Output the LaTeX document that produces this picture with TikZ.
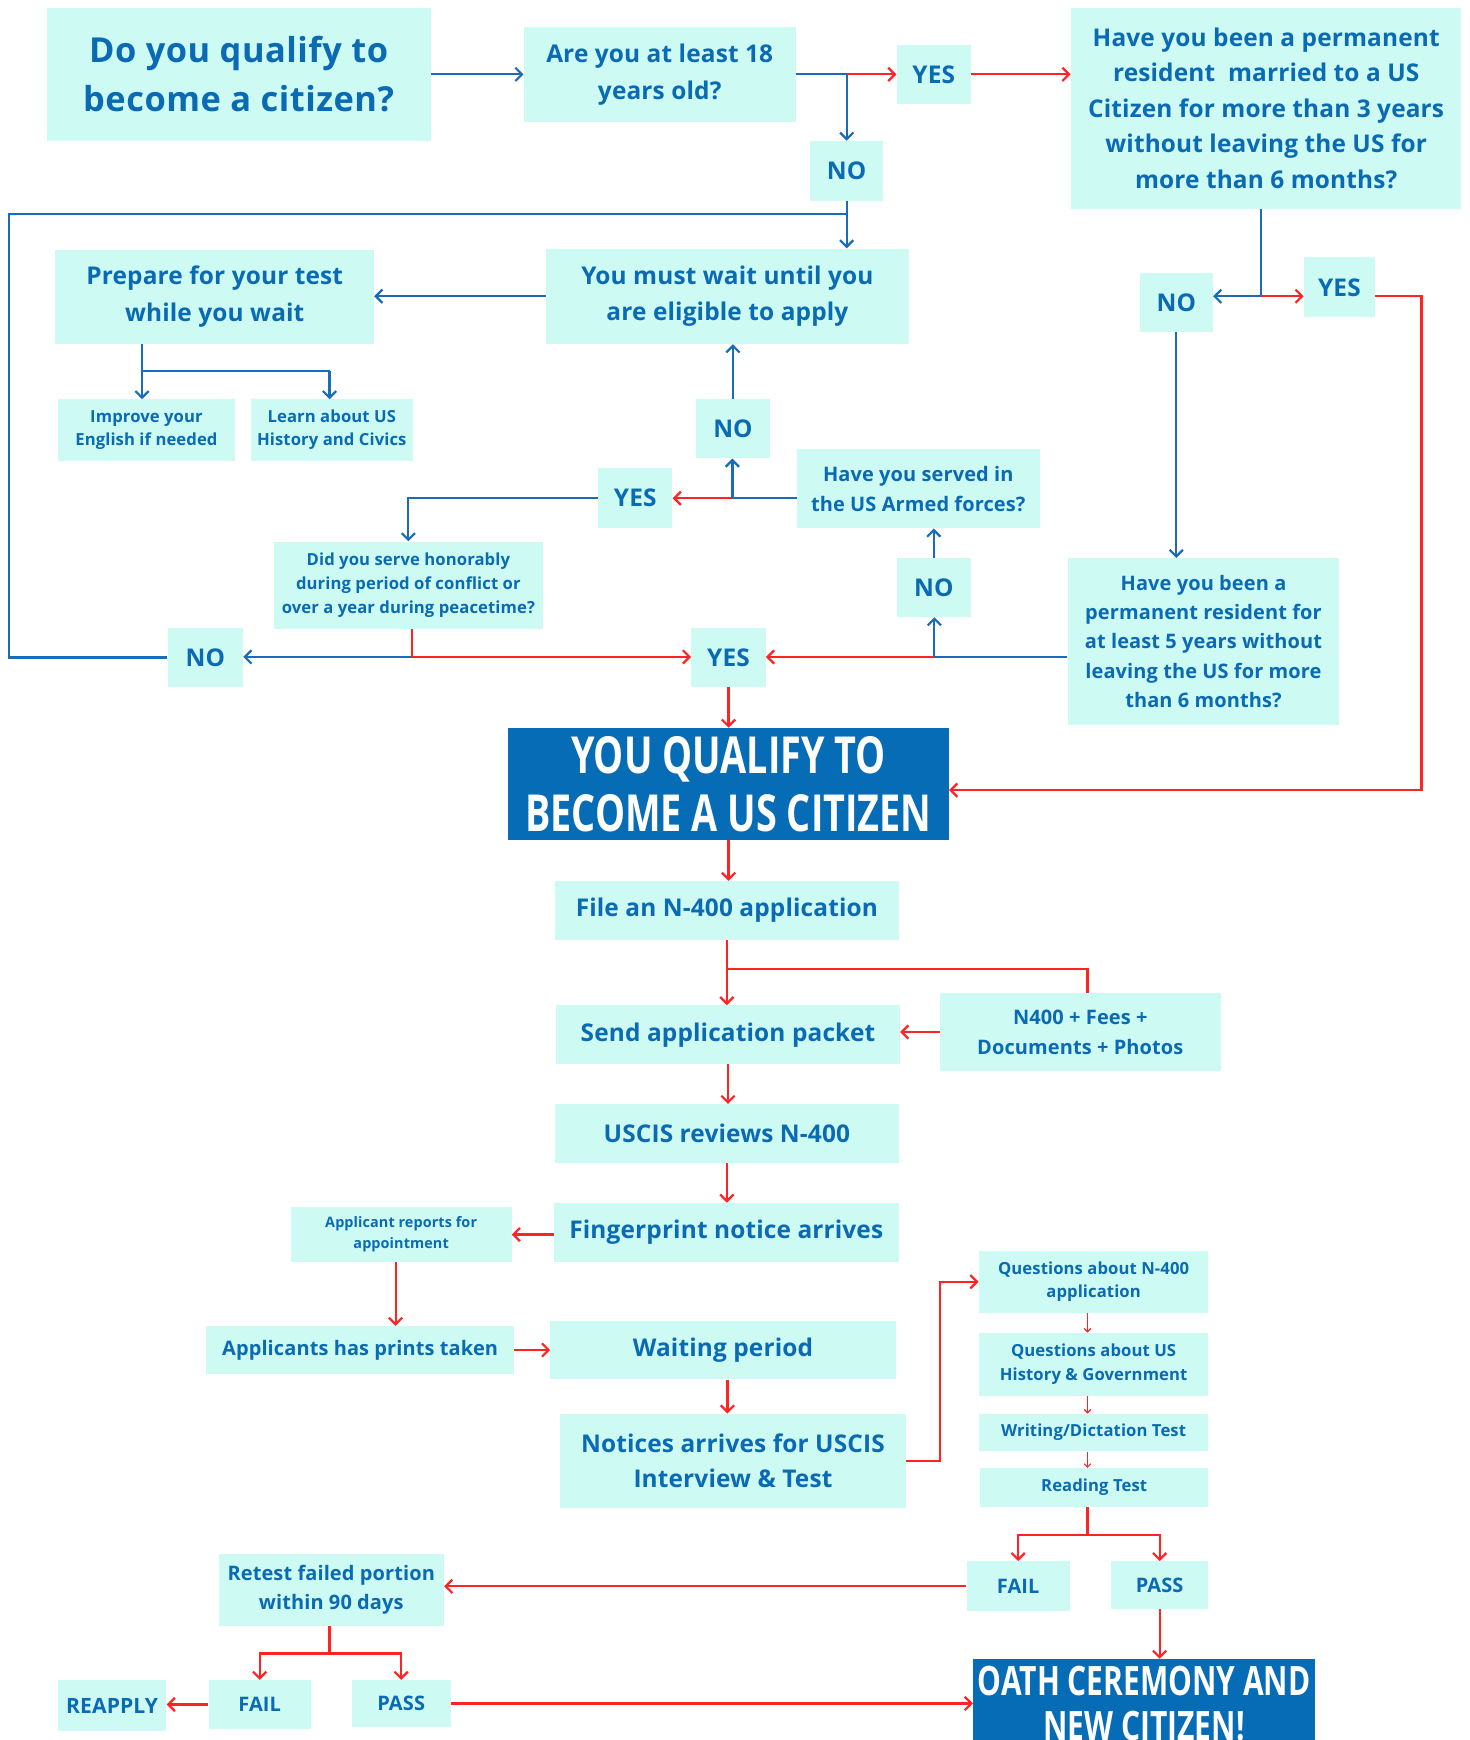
\documentclass[tikz,border=0pt]{standalone}
\usepackage{fontspec}
\setmainfont{Open Sans}
\newfontfamily\narrowfont{Open Sans}[LetterSpace=0.6]
\newfontfamily\titlefont{Open Sans}[LetterSpace=1.5]
\newfontfamily\condfont{Open Sans}[FakeStretch=0.74]
\usepackage{xcolor}
\usetikzlibrary{arrows.meta}
\definecolor{boxcyan}{RGB}{205,250,243}
\definecolor{txtblue}{RGB}{10,106,179}
\definecolor{lineblue}{RGB}{24,108,186}
\definecolor{linered}{RGB}{255,36,36}
\definecolor{darkblue}{RGB}{6,108,182}
\tikzset{
  flow box/.style={fill=boxcyan, text=txtblue, align=center, inner sep=0pt},
  dark box/.style={fill=darkblue, text=white, align=center, inner sep=0pt},
  box size/.style 2 args={minimum width=#1pt, minimum height=#2pt},
  txt/.style 2 args={font=\narrowfont\bfseries\fontsize{#1}{#2}\selectfont},
  bigtxt/.style 2 args={font=\condfont\bfseries\fontsize{#1}{#2}\selectfont},
  blue line/.style={draw=lineblue, line width=2pt},
  red line/.style={draw=linered, line width=2pt},
  thin red/.style={draw=linered, line width=1pt, >={Straight Barb[length=3pt,width=6pt]}},
}
\begin{document}
\begin{tikzpicture}[x=1pt, y=-1pt, >={Straight Barb[length=6pt,width=12pt]}]
\useasboundingbox (0,0) rectangle (1324,1568);

\node[flow box, box size={346}{120}, font=\titlefont\bfseries\fontsize{31}{44}\selectfont] (qualify) at (215,67) {Do you qualify to\\become a citizen?};
\node[flow box, box size={245}{85}, txt={22}{33}] (age) at (594.5,67) {Are you at least 18\\years old?};
\node[flow box, box size={67}{53}, txt={22}{33}] (yesA) at (841.5,67) {YES};
\node[flow box, box size={352}{181}, txt={22}{32}] (married) at (1141,97.5) {Have you been a permanent\\resident\ \ married to a US\\Citizen for more than 3 years\\without leaving the US for\\more than 6 months?};
\node[flow box, box size={66}{54}, txt={22}{33}] (noA) at (763,154) {NO};
\node[flow box, box size={327}{86}, txt={22}{33}] (wait) at (655.5,267) {You must wait until you\\are eligible to apply};
\node[flow box, box size={287}{85}, txt={22}{33}] (prepare) at (193.5,267.5) {Prepare for your test\\while you wait};
\node[flow box, box size={160}{55}, txt={15}{21}] (english) at (132,387.5) {Improve your\\English if needed};
\node[flow box, box size={146}{55}, txt={15}{21}] (history) at (299,387.5) {Learn about US\\History and Civics};
\node[flow box, box size={66}{53}, txt={22}{33}] (noB) at (1060,272.5) {NO};
\node[flow box, box size={64}{54}, txt={22}{33}] (yesB) at (1207,259) {YES};
\node[flow box, box size={67}{53}, txt={22}{33}] (noC) at (660.5,386.5) {NO};
\node[flow box, box size={219}{71}, txt={18}{27}] (armed) at (827.5,440.5) {Have you served in\\the US Armed forces?};
\node[flow box, box size={67}{54}, txt={22}{33}] (yesC) at (572.5,449) {YES};
\node[flow box, box size={242}{79}, txt={15}{21.5}] (honor) at (368,527.5) {Did you serve honorably\\during period of conflict or\\over a year during peacetime?};
\node[flow box, box size={67}{53}, txt={22}{33}] (noD) at (841.5,529.5) {NO};
\node[flow box, box size={245}{150}, txt={18}{26.5}] (five) at (1084.5,578) {Have you been a\\permanent resident for\\at least 5 years without\\leaving the US for more\\than 6 months?};
\node[flow box, box size={68}{53}, txt={22}{33}] (noE) at (185,592.5) {NO};
\node[flow box, box size={67}{53}, txt={22}{33}] (yesE) at (656.5,592.5) {YES};
\node[dark box, box size={397}{101}, bigtxt={46}{52}] (qualified) at (656.5,706.5) {YOU QUALIFY TO\\BECOME A US CITIZEN};
\node[flow box, box size={310}{53}, txt={22}{33}] (file) at (655,820.5) {File an N-400 application};
\node[flow box, box size={253}{70}, txt={18}{27}] (docs) at (973.5,930) {N400 + Fees +\\Documents + Photos};
\node[flow box, box size={310}{53}, txt={22}{33}] (send) at (656,932.5) {Send application packet};
\node[flow box, box size={310}{53}, txt={22}{33}] (review) at (655,1021.5) {USCIS reviews N-400};
\node[flow box, box size={311}{53}, txt={22}{33}] (finger) at (654.5,1110.5) {Fingerprint notice arrives};
\node[flow box, box size={199}{49}, txt={13}{19}] (reports) at (361.5,1112.5) {Applicant reports for\\appointment};
\node[flow box, box size={277}{43}, txt={18}{27}] (prints) at (324.5,1216.5) {Applicants has prints taken};
\node[flow box, box size={311}{53}, txt={22}{33}] (waiting) at (651.5,1216.5) {Waiting period};
\node[flow box, box size={311}{85}, txt={22}{32}] (notices) at (660.5,1316.5) {Notices arrives for USCIS\\Interview \& Test};
\node[flow box, box size={207}{56}, txt={15}{21.5}] (qform) at (985.5,1155) {Questions about N-400\\application};
\node[flow box, box size={207}{57}, txt={15}{21.5}] (qcivics) at (985.5,1229.5) {Questions about US\\History \& Government};
\node[flow box, box size={207}{34}, txt={15}{21}] (writing) at (985.5,1291) {Writing/Dictation Test};
\node[flow box, box size={206}{35}, txt={15}{21}] (reading) at (986,1340.5) {Reading Test};
\node[flow box, box size={93}{45}, txt={18}{27}] (failA) at (917.5,1429.5) {FAIL};
\node[flow box, box size={88}{43}, txt={18}{27}] (passA) at (1045,1428.5) {PASS};
\node[flow box, box size={203}{65}, txt={18}{25.5}] (retest) at (298.5,1432.5) {Retest failed portion\\within 90 days};
\node[flow box, box size={98}{46}, txt={19}{27}] (reapply) at (101,1537) {REAPPLY};
\node[flow box, box size={92}{44}, txt={18}{27}] (failB) at (234,1536) {FAIL};
\node[flow box, box size={89}{42}, txt={18}{27}] (passB) at (361.5,1535) {PASS};
\node[dark box, box size={308}{80}, bigtxt={36.5}{40}] (oath) at (1031,1535) {OATH CEREMONY AND\\NEW CITIZEN!};

\coordinate (jA) at (763,67);
\coordinate (jB) at (763,193);
\coordinate (jC) at (128,334);
\coordinate (jD) at (297,334);
\coordinate (jE) at (1136,267);
\coordinate (jF) at (1281,712);
\coordinate (jG) at (842,592);
\coordinate (jH) at (660,449);
\coordinate (jI) at (371,592);
\coordinate (jJ) at (655,873);
\coordinate (jK) at (980,1383);
\coordinate (jL) at (297,1490);
\coordinate (colQ) at (980,0);

\draw[blue line,->] (qualify.east) -- (qualify.east -| age.west);
\draw[blue line] (age.east) -- (jA);
\draw[blue line,->] (jA) -- (noA.north);
\draw[red line,->] (jA) -- (yesA.west);
\draw[red line,->] (yesA.east) -- (yesA.east -| married.west);
\draw[blue line,->] (noA.south) -- (noA.south |- wait.north);
\draw[blue line] (noE.west) -- ++(-143,0) |- (jB);
\draw[blue line,->] (wait.west) -- (wait.west -| prepare.east);
\draw[blue line] (prepare.south -| jC) -- (jC) -- (jD);
\draw[blue line,->] (jC) -- (jC |- english.north);
\draw[blue line,->] (jD) -- (jD |- history.north);
\draw[blue line] (married.south -| jE) -- (jE);
\draw[blue line,->] (jE) -- (jE -| noB.east);
\draw[red line,->] (jE) -- (jE -| yesB.west);
\draw[red line,->] (yesB.east |- jE) -| (jF) -- (jF -| qualified.east);
\draw[blue line,->] (noB.south) -- (noB.south |- five.north);
\draw[blue line] (five.west |- jG) -- (jG);
\draw[blue line,->] (jG) -- (jG |- noD.south);
\draw[red line,->] (jG) -- (jG -| yesE.east);
\draw[blue line,->] (noD.north) -- (noD.north |- armed.south);
\draw[blue line] (armed.west |- jH) -- (jH);
\draw[blue line,->] (jH) -- (jH |- noC.south);
\draw[red line,->] (jH) -- (jH -| yesC.east);
\draw[blue line,->] (noC.north) -- (noC.north |- wait.south);
\draw[blue line,->] (yesC.west) -| (honor.north);
\draw[blue line,->] (jI) -- (jI -| noE.east);
\draw[red line] (honor.south -| jI) -- (jI);
\draw[red line,->] (jI) -- (jI -| yesE.west);
\draw[red line,->] (yesE.south) -- (yesE.south |- qualified.north);
\draw[red line,->] (qualified.south) -- (qualified.south |- file.north);
\draw[red line,->] (file.south) -- (file.south |- send.north);
\draw[red line] (jJ) -| ([xshift=6.5pt]docs.north);
\draw[red line,->] (docs.west) -- (docs.west -| send.east);
\draw[red line,->] (send.south) -- (send.south |- review.north);
\draw[red line,->] (review.south) -- (review.south |- finger.north);
\draw[red line,->] (finger.west |- reports.east) -- (reports.east);
\draw[red line,->] ([xshift=-5pt]reports.south) -- ([xshift=-5pt]reports.south |- prints.north);
\draw[red line,->] (prints.east) -- (prints.east -| waiting.west);
\draw[red line,->] ([xshift=4pt]waiting.south) -- ([xshift=4pt]waiting.south |- notices.north);
\draw[red line,->] (notices.east) -- ++(31,0) |- (qform.west);
\draw[thin red,->] (qform.south -| colQ) -- (qcivics.north -| colQ);
\draw[thin red,->] (qcivics.south -| colQ) -- (writing.north -| colQ);
\draw[thin red,->] (writing.south -| colQ) -- (reading.north -| colQ);
\draw[red line] (reading.south -| jK) -- (jK);
\draw[red line,->] (jK) -| (failA.north);
\draw[red line,->] (jK) -| (passA.north);
\draw[red line,->] (failA.west) -- (failA.west -| retest.east);
\draw[red line,->] (passA.south) -- (passA.south |- oath.north);
\draw[red line] (retest.south -| jL) -- (jL);
\draw[red line,->] (jL) -| (failB.north);
\draw[red line,->] (jL) -| (passB.north);
\draw[red line,->] (failB.west) -- (failB.west -| reapply.east);
\draw[red line,->] (passB.east) -- (passB.east -| oath.west);
\end{tikzpicture}
\end{document}
